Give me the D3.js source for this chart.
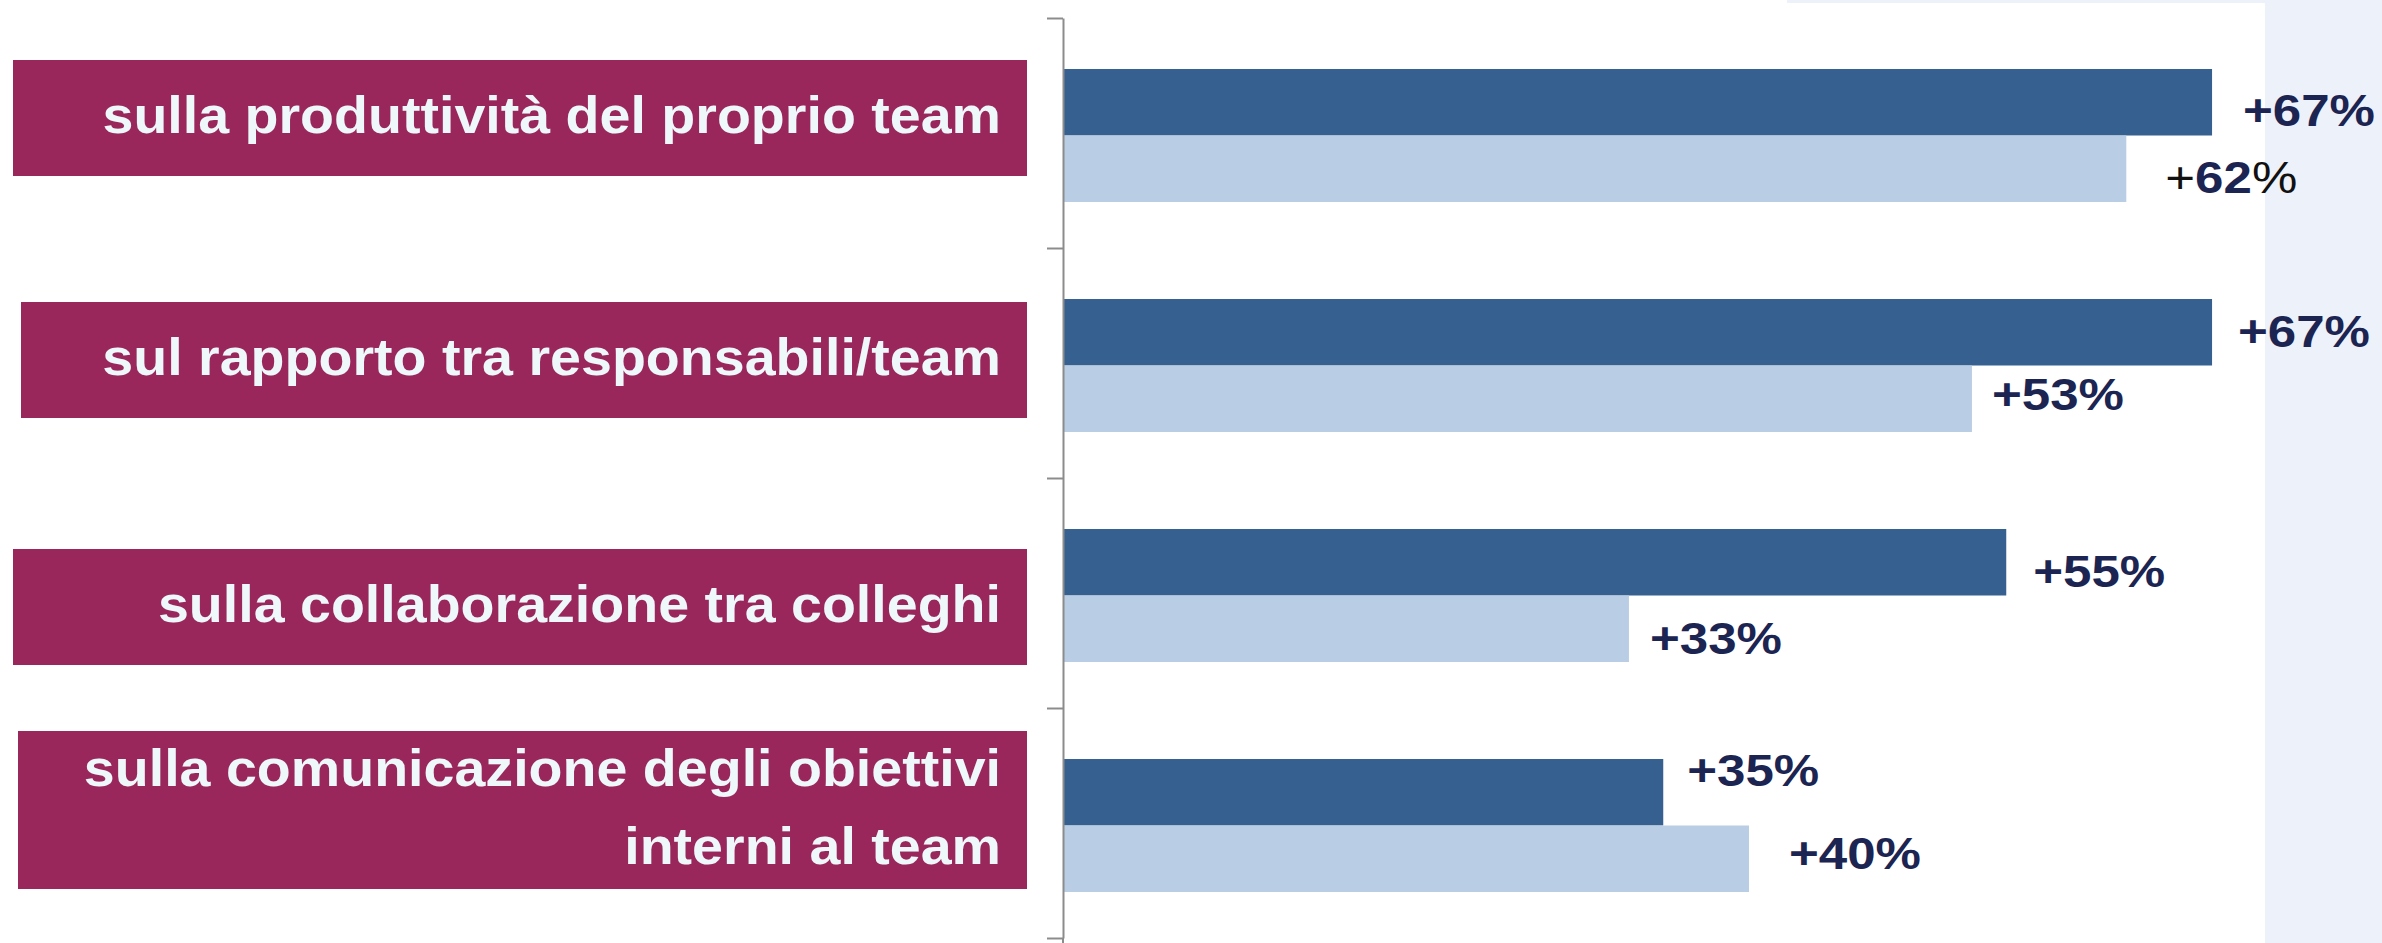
<!DOCTYPE html>
<html>
<head>
    <meta charset="utf-8">
    <style>
        body { margin: 0; background: #fff; }
        svg { display: block; }
        .cat text {
            font-family: "Liberation Sans", Arial, sans-serif;
            font-weight: bold;
            fill: #eef7f9;
            text-anchor: end;
        }
        .val text {
            font-family: "Liberation Sans", Arial, sans-serif;
            font-weight: bold;
            fill: #1c2452;
        }
        .axis path, .axis line {
            stroke: #8c8c8c;
            stroke-width: 2;
        }
    </style>
    <script src="https://d3js.org/d3.v7.min.js"></script>
</head>
<body>
<svg width="2382" height="943"></svg>
<script>
    // data
    let categories = [
        "sulla produttività del proprio team",
        "sul rapporto tra responsabili/team",
        "sulla collaborazione tra colleghi",
        "sulla comunicazione degli obiettivi interni al team"
    ];
    let categoryLines = [
        ["sulla produttività del proprio team"],
        ["sul rapporto tra responsabili/team"],
        ["sulla collaborazione tra colleghi"],
        ["sulla comunicazione degli obiettivi", "interni al team"]
    ];
    let series = ["serie1", "serie2"];
    let darkValues = [67, 67, 55, 35];
    let lightValues = [62, 53, 33, 40];

    let svg = d3.select("svg"),
        width = +svg.attr("width"),
        height = +svg.attr("height");

    // light panel on the right
    svg.append("rect").attr("x", 2265).attr("y", 0)
        .attr("width", width - 2265).attr("height", height).attr("fill", "#edf1f9");
    svg.append("rect").attr("x", 1787).attr("y", 0)
        .attr("width", 480).attr("height", 3).attr("fill", "#edf1f9");

    let x = d3.scaleLinear().domain([0, 100]).range([1063, 1063 + 1715]);
    let y0 = d3.scaleBand().domain(categories).range([18, 938]);
    let y1 = d3.scaleBand().domain(series).range([51, 184]);
    let color = d3.scaleOrdinal().domain(series).range(["#36608f", "#b9cde4"]);

    let rows = categories.map(function(c, i) {
        return {
            cat: c,
            lines: categoryLines[i],
            bars: [
                {key: series[0], value: darkValues[i], i: i},
                {key: series[1], value: lightValues[i], i: i}
            ]
        };
    });

    // purple label boxes (small nudges as in the original slide)
    let boxNudge = [-15, -3, 14, -13];
    let boxLeft = [13, 21, 13, 18];
    let catFont = 51;

    let cat = svg.append("g").attr("class", "cat")
        .selectAll("g")
        .data(rows)
        .enter().append("g");

    cat.append("rect")
        .attr("x", function(d, i) { return boxLeft[i]; })
        .attr("width", function(d, i) { return 1027 - boxLeft[i]; })
        .attr("y", function(d, i) {
            let h = d.lines.length > 1 ? 158 : 116;
            return y0(d.cat) + y0.bandwidth() / 2 + boxNudge[i] - h / 2;
        })
        .attr("height", function(d) { return d.lines.length > 1 ? 158 : 116; })
        .attr("fill", "#99275c");

    cat.each(function(d, i) {
        let cy = y0(d.cat) + y0.bandwidth() / 2 + boxNudge[i] + 15;
        let n = d.lines.length;
        d3.select(this).selectAll("text")
            .data(d.lines)
            .enter().append("text")
            .attr("transform", function(t, j) {
                let by = cy + (j - (n - 1) / 2) * 78;
                return "translate(1001," + by + ") scale(1.09,1)";
            })
            .style("font-size", catFont + "px")
            .text(function(t) { return t; });
    });

    // bars
    let group = svg.append("g")
        .selectAll("g")
        .data(rows)
        .enter().append("g")
        .attr("transform", function(d) { return "translate(0," + y0(d.cat) + ")"; });

    group.selectAll("rect")
        .data(function(d) { return d.bars; })
        .enter().append("rect")
        .attr("x", x(0))
        .attr("y", function(d) { return y1(d.key); })
        .attr("width", function(d) { return x(d.value) - x(0); })
        .attr("height", y1.bandwidth())
        .attr("fill", function(d) { return color(d.key); });

    // axis with ticks between the groups, line runs off the bottom
    let tickScale = d3.scaleLinear().domain([0, categories.length]).range(y0.range());
    let axis = svg.append("g")
        .attr("class", "axis")
        .attr("transform", "translate(" + x(0) + ",0)")
        .call(d3.axisLeft(tickScale).ticks(categories.length)
            .tickFormat("").tickSizeInner(16).tickSizeOuter(0));
    axis.append("line")
        .attr("x1", 0).attr("x2", 0)
        .attr("y1", y0.range()[1]).attr("y2", height);

    // value labels; nudges copied from the slide's text boxes
    let valNudge = [
        [[31, 8], [39, 8]],
        [[26, -1], [20, -5]],
        [[27, 9], [21, 9]],
        [[24, -22], [40, -6]]
    ];
    let valFont = 44;

    let val = svg.append("g").attr("class", "val");
    rows.forEach(function(r, i) {
        r.bars.forEach(function(b, s) {
            let n = valNudge[i][s];
            let cy = y0(r.cat) + y1(b.key) + y1.bandwidth() / 2 + n[1];
            let t = val.append("text")
                .attr("transform", "translate(" + (x(b.value) + n[0]) + "," + (cy + 0.358 * valFont) + ") scale(1.16,1)")
                .style("font-size", valFont + "px");
            if (i === 0 && s === 1) {
                // in the original this label has a thin black sign and percent
                t.append("tspan").style("font-weight", "normal").style("fill", "#111").text("+");
                t.append("tspan").text(b.value);
                t.append("tspan").style("font-weight", "normal").style("fill", "#111").text("%");
            } else {
                t.text("+" + b.value + "%");
            }
        });
    });
</script>
</body>
</html>
